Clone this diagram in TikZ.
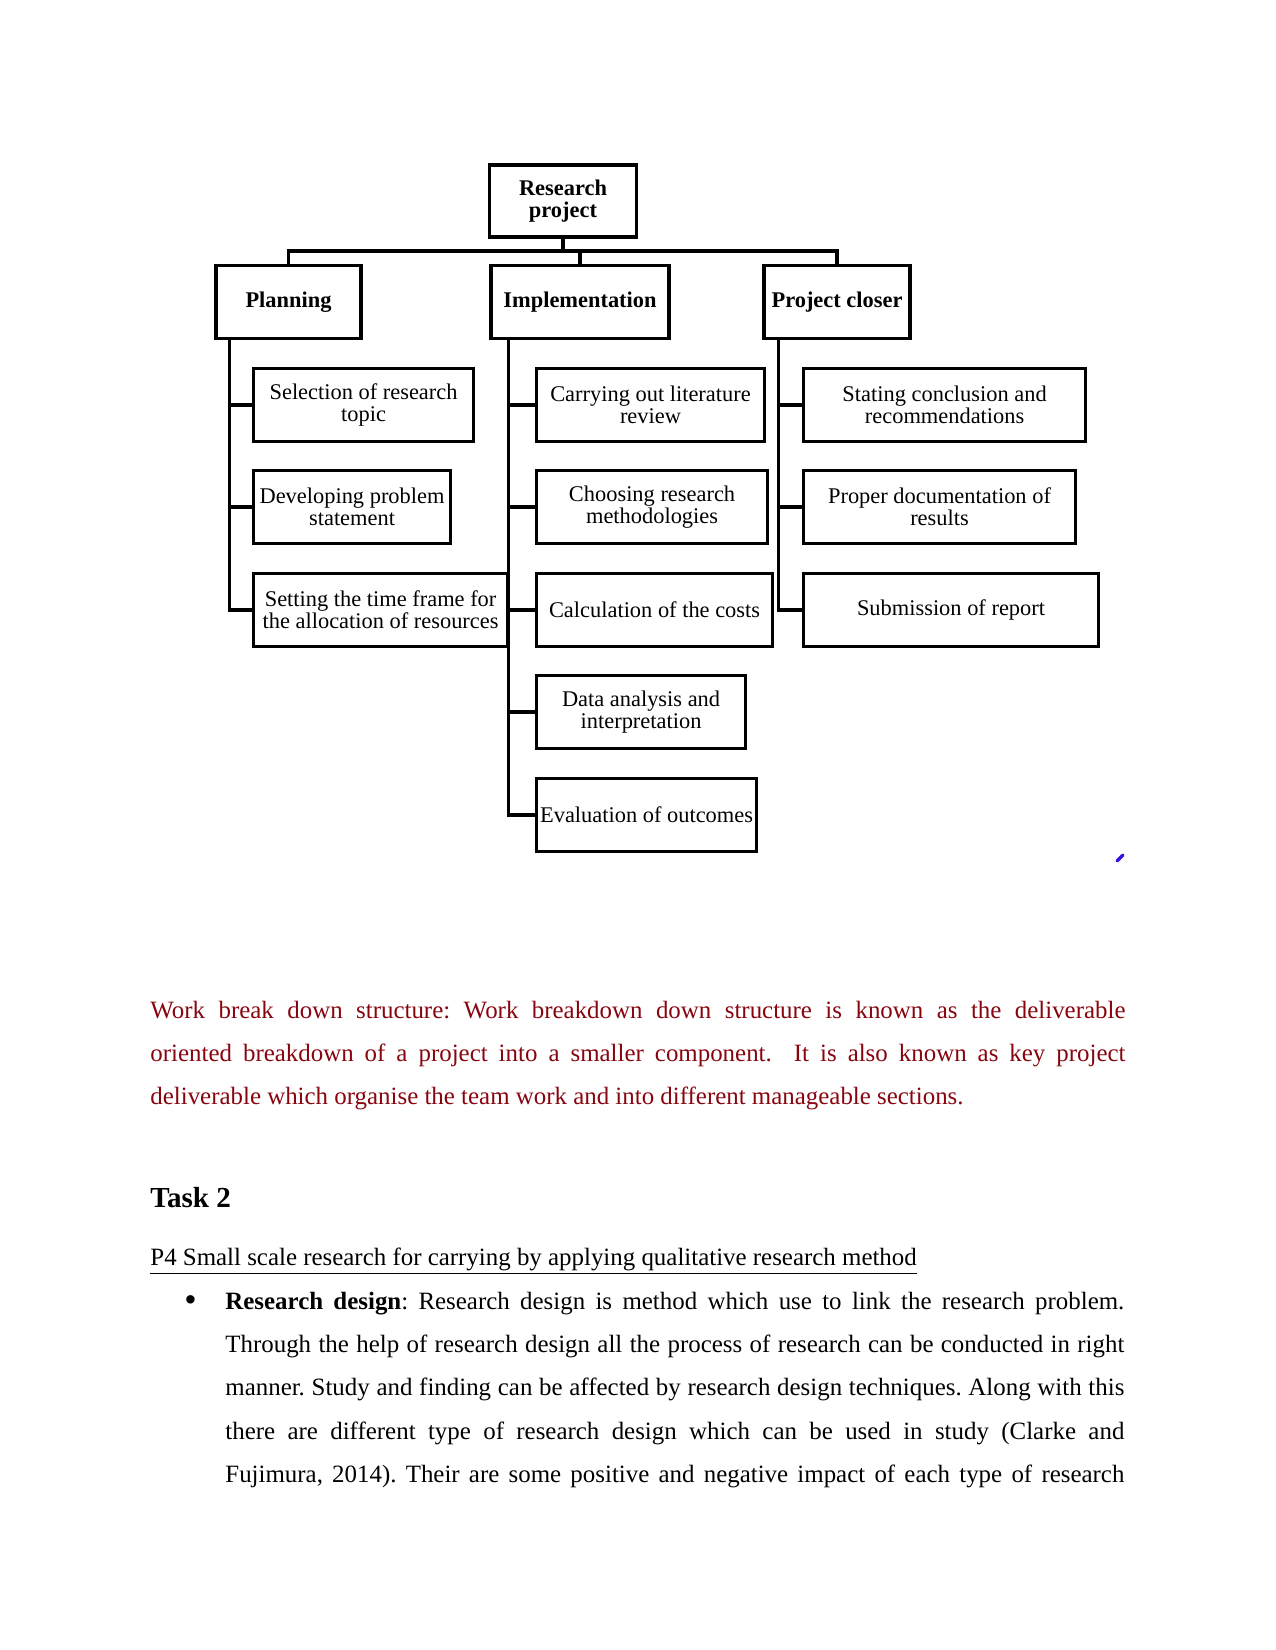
\documentclass[tikz,border=0pt]{standalone}
\usepackage{fontspec}
\setmainfont{Liberation Serif}
\usetikzlibrary{calc}
\definecolor{wbsred}{RGB}{135,5,15}
\definecolor{inkblue}{RGB}{50,20,230}
\frenchspacing
\begin{document}
\begin{tikzpicture}[
  x=0.16933mm, y=-0.16933mm,
  box/.style={draw, line width=1.5pt, minimum height=35pt, align=center, inner sep=1pt, font=\fontsize{10.8}{10.6}\selectfont},
  head/.style={box, font=\fontsize{10.8}{10.6}\selectfont\bfseries},
  link/.style={draw, line width=1.6pt},
  body/.style={anchor=base west, inner sep=0pt, font=\fontsize{12}{20.9}\selectfont}
]
\useasboundingbox (0,0) rectangle (1275,1650);
\node[head, minimum width=70.8pt, minimum height=34.7pt] (root) at (563,201) {Research\\project};
\node[head, minimum width=69.9pt] (plan) at (288.5,302) {Planning};
\node[head, minimum width=85.8pt] (impl) at (580,302) {Implementation};
\node[head, minimum width=70.3pt] (close) at (837,302) {Project closer};

\node[box, anchor=west, minimum width=106pt] (sel) at (252,405) {Selection of research\\topic};
\node[box, anchor=west, minimum width=94.9pt] (dev) at (252,507) {Developing problem\\statement};
\node[box, anchor=west, minimum width=122.4pt] (set) at (252,610) {Setting the time frame for\\the allocation of resources};

\node[box, anchor=west, minimum width=109.8pt] (car) at (535,405) {Carrying out literature\\review};
\node[box, anchor=west, minimum width=111.3pt] (cho) at (535,507) {Choosing research\\methodologies};
\node[box, anchor=west, minimum width=113.7pt] (cal) at (535,610) {Calculation of the costs};
\node[box, anchor=west, minimum width=100.7pt] (dat) at (535,712) {Data analysis and\\interpretation};
\node[box, anchor=west, minimum width=106pt] (eva) at (535,815) {Evaluation of outcomes};

\node[box, anchor=west, minimum width=135.9pt] (sta) at (802,405) {Stating conclusion and\\recommendations};
\node[box, anchor=west, minimum width=131pt] (pro) at (802,507) {Proper documentation of\\results};
\node[box, anchor=west, minimum width=142.1pt] (sub) at (802,610) {Submission of report};

\coordinate (bar) at (0,251);
\draw[link] (root.south) -- (root.south |- bar);
\draw[link] (plan.north) -- (plan.north |- bar) -- (close.north |- bar) -- (close.north);
\draw[link] (impl.north) -- (impl.north |- bar);

\coordinate (ptrunk) at ($(plan.south west)+(15,0)$);
\coordinate (itrunk) at ($(impl.south west)+(19,0)$);
\coordinate (ctrunk) at ($(close.south west)+(16,0)$);
\draw[link] (ptrunk) |- (set.west);
\draw[link] (itrunk) |- (eva.west);
\draw[link] (ctrunk) |- (sub.west);
\foreach \c in {sel,dev}
  \draw[link] (ptrunk |- \c.west) -- (\c.west);
\foreach \c in {car,cho,cal,dat}
  \draw[link] (itrunk |- \c.west) -- (\c.west);
\foreach \c in {sta,pro}
  \draw[link] (ctrunk |- \c.west) -- (\c.west);

\draw[inkblue, line width=1.6pt, line cap=round] (1117,861) -- (1123,855);

\node[body, text width=469.8pt, align=justify, text=wbsred] (para) at (150,1018)
  {Work break down structure: Work breakdown down structure is known as the deliverable\linebreak oriented breakdown of a project into a smaller component.\ \ It is also known as key project\linebreak deliverable which organise the team work and into different manageable sections.};
\node[body, font=\fontsize{14}{16}\selectfont\bfseries] (task) at (150,1207) {Task 2};
\node[body] (subhead) at (150,1265) {\underline{P4 Small scale research for carrying by applying qualitative research method}};
\node[body, font=\fontsize{17}{17}\selectfont] (dot) at (184,1311) {\textbullet};
\node[body, text width=433.1pt, align=justify] (design) at (225,1309)
  {\textbf{Research design}: Research design is method which use to link the research problem.\linebreak Through the help of research design all the process of research can be conducted in right\linebreak manner. Study and finding can be affected by research design techniques. Along with this\linebreak there are different type of research design which can be used in study (Clarke and\linebreak Fujimura, 2014). Their are some positive and negative impact of each type of research{\parfillskip=0pt\par}};
\end{tikzpicture}
\end{document}
